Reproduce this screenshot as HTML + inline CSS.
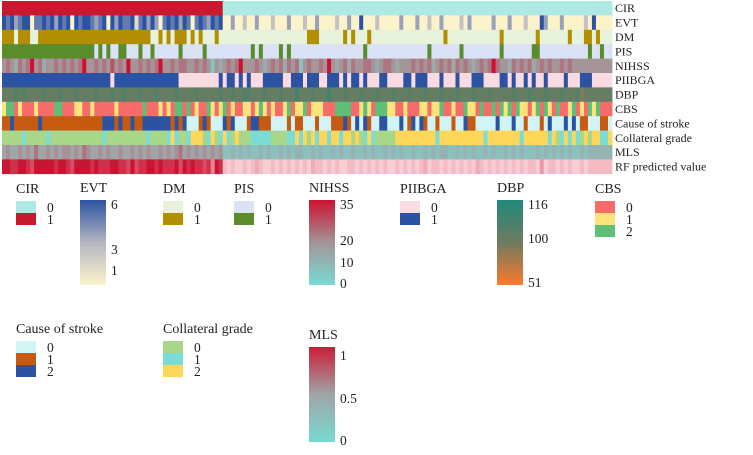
<!DOCTYPE html>
<html><head><meta charset="utf-8">
<style>
body{margin:0;background:#fff;font-family:"Liberation Serif",serif;}
svg text{font-family:"Liberation Serif",serif;fill:#222;}
</style></head>
<body>
<svg id="chart" width="753" height="450" xmlns="http://www.w3.org/2000/svg"></svg>
<script>
const rowNames=["CIR","EVT","DM","PIS","NIHSS","PIIBGA","DBP","CBS","Cause of stroke","Collateral grade","MLS","RF predicted value"];
const N=152;
const cirRow="1".repeat(55)+"0".repeat(97);
const evtRow="6564566155656465616566545616465562564641565646515654656"+"1141131141113111411131141111311411611131111141114113114111131411111411141113111641114111113161";
const dmRow="1110111001111111111111111111111111111001010111010100010000000000000000000000111000000101000100000000000000000010000000000000100000000100000001000110100";
const pisRow="1111111111111111111111101010011000100100000010000010000000000010100001010000000000000000001000000000000000100000001000000000100000001100000000000010010";
const nihssRow="5654656956455656565695565657565955656569556566556565"+"2545656955565456564656256556595456465566545665455565656456564656545656965546565645656556565";
const piibgaRow="1111111111111111111111111110111111111111111100000000001011010100011111001110111001110101101000110000110111000100010001110000110100101001000010001110000001";
const dbpRow="5556565555655565556555565556556555655565555655556555556556556655565556555755565557555655565556555655565556555655565556555655555655565556555655564555";
const cbsRow="1220100010000220001100100000100000020001010220201002101201001101210100120112011100022220012102221100100011011200100211020020212021101202102001201021200021";
const causeRow="1121111112111111111111111222121121122222221212000121000212000122111000010110001000111210202100220002012021001000100211000002000200100010200020201100011000";
const collRow="0000010000010000000000000100000000001000012100122201201210200011111000011212021221221220201210000022222222221222222222221222222221222222120121210202211";
const mlsRow="4544545464454545545465445454454454545445454564545454545"+"2232323223232232323322323223232232232322323232232232323322323232232322323232223232323232232";
const rfRow="9988998799999899879999898889988797889989888979898878598"+"2121121232112121212121322121211221212121211212121231221212121213212121212121221412212121121";

function parse(s,def){const a=s.split("").map(Number);while(a.length<N)a.push(def);return a.slice(0,N);}
const CIR=parse(cirRow,0),EVT=parse(evtRow,1),DM=parse(dmRow,0),PIS=parse(pisRow,0),
NIHSS=parse(nihssRow,5).map(d=>d*35/9),PIIBGA=parse(piibgaRow,0),DBP=parse(dbpRow,5).map(d=>51+d*65/9),
CBS=parse(cbsRow,0),CAUSE=parse(causeRow,0),COLL=parse(collRow,2),MLS=parse(mlsRow,3).map(d=>d/9),RF=parse(rfRow,2).map(d=>d/9);

function hex(c){return[parseInt(c.slice(1,3),16),parseInt(c.slice(3,5),16),parseInt(c.slice(5,7),16)];}
function lerp3(c0,c1,c2,t){t=Math.max(0,Math.min(1,t));let a,b,u;if(t<0.5){a=hex(c0);b=hex(c1);u=t*2;}else{a=hex(c1);b=hex(c2);u=(t-0.5)*2;}
return "rgb("+a.map((v,i)=>Math.round(v+(b[i]-v)*u)).join(",")+")";}
const scales=[
 v=>v?"#c8192f":"#aee9e4",
 v=>lerp3("#fdf3cb","#b4b6c0","#2c53a2",(v-1)/5),
 v=>v?"#b38e00":"#e6f2da",
 v=>v?"#5a8c2c":"#dbe2f5",
 v=>lerp3("#78dbd3","#9fa5a6","#cc1230",v/35),
 v=>v?"#2c53a2":"#fadbe2",
 v=>lerp3("#fb7a2b","#6e7b60","#1f8a7a",(v-51)/65),
 v=>["#f76b6b","#fde47a","#5fbf78"][v],
 v=>["#d3f4f4","#c55a11","#2c53a2"][v],
 v=>["#a9d78a","#7adcd4","#fdd65a"][v],
 v=>lerp3("#78dad2","#a4a0a2","#cc1d38",v),
 v=>lerp3("#fbe0e5","#e9909e","#c51732",v)
];
const data=[CIR,EVT,DM,PIS,NIHSS,PIIBGA,DBP,CBS,CAUSE,COLL,MLS,RF];
const X0=2,X1=612,Y0=1,RH=14.4;
const xS=i=>X0+i*(X1-X0)/N, cw=(X1-X0)/N;
const svg=document.getElementById("chart");const NS="http://www.w3.org/2000/svg";
function el(t,a,p){const e=document.createElementNS(NS,t);for(const k in a)e.setAttribute(k,a[k]);(p||svg).appendChild(e);return e;}
data.forEach((row,r)=>{
 const g=el("g",{});
 
 
 row.forEach((v,i)=>{
  const c=el("rect",{x:xS(i),y:Y0+r*RH,width:cw+0.4,height:RH+0.3,fill:scales[r](v)},g);
  
  
 });
 const t=el("text",{x:615,y:Y0+r*RH+RH/2+4,"font-size":"12"});t.textContent=rowNames[r];
 
 
});
function title(x,y,s){const t=el("text",{x:x,y:y,"font-size":"14"});t.textContent=s;}
function lab(x,y,s){const t=el("text",{x:x,y:y,"font-size":"13.5"});t.textContent=s;}
function discrete(x,y0,name,cols,labels){title(x,y0-8,name);cols.forEach((c,i)=>{const r=el("rect",{x:x,y:y0+i*12,width:20,height:12,fill:c});lab(x+31,y0+i*12+11,labels[i]);});}
function gradBar(id,x,y,h,name,stops,ticks){title(x,y-8,name);const d=el("defs",{});const lg=el("linearGradient",{id:id,x1:0,y1:1,x2:0,y2:0},d);stops.forEach((c,i)=>el("stop",{offset:i/(stops.length-1),"stop-color":c},lg));
 const r=el("rect",{x:x,y:y,width:26,height:h,fill:"url(#"+id+")"});
 ticks.forEach(t=>lab(x+31,t[1],t[0]));}
discrete(16,201,"CIR",["#aee9e4","#c8192f"],["0","1"]);
gradBar("gEVT",80,200,85,"EVT",["#fdf3cb","#b4b6c0","#2c53a2"],[["6",209],["3",254],["1",275]]);
discrete(163,201,"DM",["#e6f2da","#b38e00"],["0","1"]);
discrete(234,201,"PIS",["#dbe2f5","#5a8c2c"],["0","1"]);
gradBar("gNIH",309,200,85,"NIHSS",["#78dbd3","#a39497","#cc1230"],[["35",209],["20",245],["10",267],["0",288]]);
discrete(400,201,"PIIBGA",["#fadbe2","#2c53a2"],["0","1"]);
gradBar("gDBP",497,200,85,"DBP",["#fb7a2b","#6e7b60","#1f8a7a"],[["116",209],["100",243],["51",287]]);
discrete(595,201,"CBS",["#f76b6b","#fde47a","#5fbf78"],["0","1","2"]);
discrete(16,341,"Cause of stroke",["#d3f4f4","#c55a11","#2c53a2"],["0","1","2"]);
discrete(163,341,"Collateral grade",["#a9d78a","#7adcd4","#fdd65a"],["0","1","2"]);
gradBar("gMLS",309,347,95,"MLS",["#78dad2","#a0a5a6","#cc1d38"],[["1",360],["0.5",403],["0",445]]);
</script>
</body></html>
